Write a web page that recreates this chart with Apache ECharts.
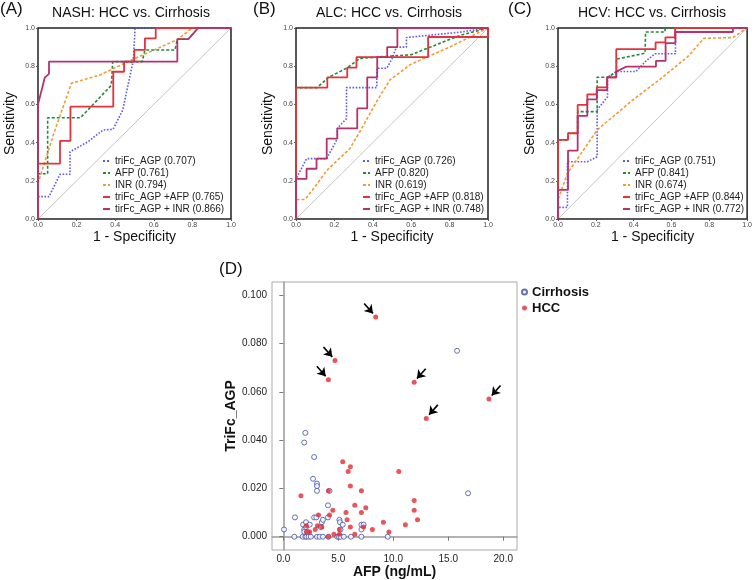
<!DOCTYPE html>
<html>
<head>
<meta charset="utf-8">
<script src="https://cdn.jsdelivr.net/npm/echarts@6/dist/echarts.min.js"></script>
<style>
  html, body { margin: 0; padding: 0; background: #fff; }
  #main { width: 755px; height: 580px; }
</style>
</head>
<body>
<div id="main"></div>
<script>
var chart = echarts.init(document.getElementById('main'));
var FONT = 'Liberation Sans, Arial, sans-serif';

// ---- ROC curves, [1 - specificity, sensitivity] ----
var nashTriFc = [[0,0],[0,0.117],[0.057,0.117],[0.114,0.234],[0.166,0.234],[0.166,0.352],[0.26,0.405],[0.31,0.445],[0.338,0.466],[0.389,0.47],[0.439,0.571],[0.494,0.832],[0.503,1],[1,1]];
var nashAfp = [[0,0],[0,0.237],[0.05,0.237],[0.05,0.53],[0.22,0.53],[0.38,0.7],[0.387,0.7],[0.387,0.824],[0.54,0.824],[0.554,0.885],[0.71,0.885],[0.722,0.942],[0.779,0.942],[0.83,1],[1,1]];
var nashInr = [[0,0],[0,0.187],[0.088,0.466],[0.173,0.71],[0.32,0.754],[0.5,0.84],[0.718,0.937],[0.8,1],[1,1]];
var nashTriFcAfp = [[0,0],[0,0.29],[0.114,0.29],[0.114,0.409],[0.168,0.409],[0.168,0.588],[0.39,0.588],[0.39,0.771],[0.446,0.771],[0.446,0.824],[0.499,0.824],[0.499,0.885],[0.554,0.885],[0.554,0.946],[0.61,0.946],[0.61,1],[1,1]];
var nashTriFcInr = [[0,0],[0,0.6],[0.035,0.74],[0.057,0.76],[0.057,0.824],[0.722,0.824],[0.722,0.942],[0.779,0.942],[0.83,1],[1,1]];

var alcTriFc = [[0,0],[0,0.21],[0.055,0.316],[0.16,0.316],[0.215,0.42],[0.215,0.474],[0.263,0.526],[0.263,0.688],[0.421,0.688],[0.421,0.789],[0.473,0.789],[0.5,0.84],[0.523,0.9],[0.575,0.9],[0.575,0.95],[0.87,0.98],[1,1]];
var alcAfp = [[0,0],[0,0.688],[0.11,0.688],[0.17,0.742],[0.27,0.793],[0.33,0.84],[0.45,0.85],[0.6,0.86],[0.7,0.9],[0.85,0.96],[1,1]];
var alcInr = [[0,0],[0,0.102],[0.047,0.102],[0.1,0.17],[0.16,0.254],[0.28,0.368],[0.34,0.47],[0.419,0.614],[0.489,0.728],[0.593,0.807],[0.688,0.851],[0.8,0.9],[1,1]];
var alcTriFcAfp = [[0,0],[0,0.688],[0.163,0.688],[0.163,0.742],[0.267,0.742],[0.267,0.793],[0.315,0.793],[0.315,0.847],[0.688,0.847],[0.688,0.953],[1,0.953],[1,1]];
var alcTriFcInr = [[0,0],[0,0.21],[0.055,0.21],[0.055,0.263],[0.107,0.263],[0.107,0.316],[0.16,0.316],[0.16,0.421],[0.215,0.421],[0.215,0.474],[0.319,0.474],[0.319,0.579],[0.371,0.579],[0.371,0.742],[0.423,0.742],[0.423,0.847],[0.475,0.847],[0.475,0.9],[0.528,0.9],[0.528,1],[1,1]];

var hcvTriFc = [[0,0],[0,0.061],[0.05,0.061],[0.05,0.3],[0.155,0.3],[0.207,0.326],[0.207,0.571],[0.262,0.64],[0.262,0.742],[0.308,0.772],[0.412,0.772],[0.463,0.825],[0.513,0.865],[0.621,0.865],[0.621,1],[1,1]];
var hcvAfp = [[0,0],[0,0.414],[0.053,0.414],[0.053,0.449],[0.104,0.449],[0.104,0.562],[0.207,0.562],[0.207,0.742],[0.262,0.742],[0.309,0.77],[0.309,0.837],[0.46,0.868],[0.463,0.979],[0.566,0.979],[0.566,1],[1,1]];
var hcvInr = [[0,0],[0,0.1],[0.05,0.239],[0.207,0.466],[0.395,0.623],[0.55,0.74],[0.686,0.85],[0.771,0.946],[0.925,0.95],[1,1]];
var hcvTriFcAfp = [[0,0],[0,0.414],[0.053,0.414],[0.053,0.449],[0.104,0.449],[0.104,0.597],[0.155,0.597],[0.155,0.653],[0.205,0.653],[0.205,0.689],[0.26,0.689],[0.26,0.742],[0.308,0.742],[0.308,0.889],[0.516,0.889],[0.516,0.925],[0.568,0.925],[0.568,0.951],[0.619,0.951],[0.619,1],[1,1]];
var hcvTriFcInr = [[0,0],[0,0.152],[0.053,0.152],[0.053,0.358],[0.104,0.358],[0.104,0.54],[0.155,0.54],[0.155,0.626],[0.205,0.626],[0.205,0.675],[0.26,0.675],[0.26,0.742],[0.308,0.742],[0.308,0.772],[0.362,0.798],[0.518,0.798],[0.518,0.828],[0.569,0.828],[0.569,0.921],[0.621,0.921],[0.621,0.979],[0.925,0.979],[0.925,1],[1,1]];

var markerNames = ['triFc_AGP', 'AFP', 'INR', 'triFc_AGP +AFP', 'tirFc_AGP + INR'];
var nashAuc = ['0.707', '0.761', '0.794', '0.765', '0.866'];
var alcAuc = ['0.726', '0.820', '0.619', '0.818', '0.748'];
var hcvAuc = ['0.751', '0.841', '0.674', '0.844', '0.772'];

// ---- scatter (D): [AFP ng/mL, TriFc_AGP] ----
var cirrhosisPoints = [[0.06,0.003],[1.0,0],[1.06,0.008],[1.76,0],[1.8,0.005],[1.9,0.003],[2.0,0.043],[1.9,0.039],[2.06,0.006],[2.06,0.004],[2.0,0],[2.1,0],[2.3,0],[2.5,0],[2.8,0.033],[2.7,0.024],[2.8,0.008],[3.0,0.008],[3.06,0.022],[3.06,0.021],[3.06,0.019],[3.06,0],[3.3,0],[3.5,0.006],[3.6,0.007],[3.6,0],[4.06,0.013],[4.2,0.019],[4.06,0.008],[4.1,0],[4.9,0],[5.05,0],[5.2,0],[5.5,0],[5.1,0.007],[5.15,0.006],[5.2,0.003],[5.4,0.005],[6.15,0],[7.1,0],[7.1,0.005],[7.3,0.005],[7.1,0.003],[9.5,0],[16.8,0.018],[15.8,0.077],[1.9,0.002],[2.2,0.002],[3.4,0.004],[2.4,0.005]];
var hccPoints = [[1.6,0.017],[2.1,0.0045],[2.1,0.002],[2.4,0.002],[3.2,0.009],[3.1,0.0045],[3.5,0.004],[2.9,0.003],[4.1,0.019],[4.1,0],[4.2,0.009],[4.5,0.011],[4.6,0.001],[5.1,0.001],[5.1,0.003],[5.4,0.031],[5.9,0.027],[6.1,0.029],[6.1,0.021],[6.1,0.004],[5.7,0.010],[5.8,0.007],[6.5,0.013],[6.5,0.001],[7.1,0.019],[7.1,0.010],[7.3,0.004],[7.5,0.012],[8.1,0.003],[9.1,0.006],[9.6,0.002],[10.5,0.027],[11.1,0.005],[11.9,0.015],[11.9,0.011],[12.2,0.007],[13.0,0.049],[18.7,0.057],[11.9,0.064],[8.4,0.091],[4.7,0.073],[4.1,0.065]];
// outliers marked with arrows; side -1 = arrow from upper left, 1 = from upper right
var arrowPoints = [[8.4,0.091],[4.7,0.073],[4.1,0.065],[11.9,0.064],[13.0,0.049],[18.7,0.057]];
var arrowSides = [-1, -1, -1, 1, 1, 1];
var afpTicks = [0, 5, 10, 15, 20];
var triFcTicks = [0, 0.02, 0.04, 0.06, 0.08, 0.1];

var curveStyles = [
  { color: '#5a5af5', type: 'dotted', width: 1.6 },
  { color: '#1f8a3c', type: [3, 2], width: 1.6 },
  { color: '#f39a35', type: [3, 2], width: 1.6 },
  { color: '#e3333b', type: 'solid', width: 1.8 },
  { color: '#b5336b', type: 'solid', width: 1.8 }
];

var rocGrids = [
  { left: 38, top: 28, width: 193, height: 191 },
  { left: 296, top: 28, width: 192, height: 191 },
  { left: 558, top: 28, width: 195, height: 191 }
];
var rocSets = [
  [nashTriFc, nashAfp, nashInr, nashTriFcAfp, nashTriFcInr],
  [alcTriFc, alcAfp, alcInr, alcTriFcAfp, alcTriFcInr],
  [hcvTriFc, hcvAfp, hcvInr, hcvTriFcAfp, hcvTriFcInr]
];
var rocAucs = [nashAuc, alcAuc, hcvAuc];
var legendLefts = [102, 362, 622];

var grids = [], xAxes = [], yAxes = [], series = [], legends = [];

rocGrids.forEach(function (g, i) {
  grids.push(Object.assign({ show: true, borderColor: '#222', borderWidth: 1.5, backgroundColor: '#fff' }, g));
  xAxes.push({
    type: 'value', gridIndex: i, min: 0, max: 1, interval: 0.2,
    name: '1 - Specificity', nameLocation: 'middle', nameGap: 11,
    nameTextStyle: { fontFamily: FONT, fontSize: 14, color: '#111' },
    axisLine: { show: false },
    axisTick: { show: true, length: 2, lineStyle: { color: '#555' } },
    axisLabel: { fontFamily: FONT, fontSize: 7, color: '#444', margin: 3, formatter: function (v) { return v.toFixed(1); } },
    splitLine: { show: false }
  });
  yAxes.push({
    type: 'value', gridIndex: i, min: 0, max: 1, interval: 0.2,
    name: 'Sensitivity', nameLocation: 'middle', nameGap: 21,
    nameTextStyle: { fontFamily: FONT, fontSize: 14, color: '#111' },
    axisLine: { show: false },
    axisTick: { show: true, length: 2, lineStyle: { color: '#555' } },
    axisLabel: { fontFamily: FONT, fontSize: 7, color: '#444', margin: 3, formatter: function (v) { return v.toFixed(1); } },
    splitLine: { show: false }
  });
  series.push({
    type: 'line', xAxisIndex: i, yAxisIndex: i, data: [[0, 0], [1, 1]],
    symbol: 'none', silent: true, lineStyle: { color: '#c4c4c4', width: 1 }
  });
  var names = [];
  rocSets[i].forEach(function (curve, k) {
    var name = markerNames[k] + ' (' + rocAucs[i][k] + ')';
    names.push(name);
    series.push({
      name: name, type: 'line', xAxisIndex: i, yAxisIndex: i,
      data: curve, symbol: 'none', silent: true,
      lineStyle: curveStyles[k], itemStyle: { color: curveStyles[k].color }
    });
  });
  // tiny item height so the line legend icon shows only its line sample
  legends.push({
    data: names, orient: 'vertical', left: legendLefts[i], top: 155,
    padding: 0, itemGap: 0, itemWidth: 7, itemHeight: 1,
    itemStyle: { opacity: 0 },
    selectedMode: false,
    textStyle: { fontFamily: FONT, fontSize: 10, color: '#222', lineHeight: 12 }
  });
});

// scatter panel
grids.push({ left: 272, top: 282, width: 245, height: 268, show: true, borderColor: '#aaa', borderWidth: 1 });
xAxes.push({
  type: 'value', gridIndex: 3, min: -1.03, max: 21.25,
  name: 'AFP (ng/mL)', nameLocation: 'middle', nameGap: 15,
  nameTextStyle: { fontFamily: FONT, fontSize: 14, fontWeight: 'bold', color: '#111' },
  axisLine: { show: true, lineStyle: { color: '#999', width: 1.5 } },
  axisTick: { show: true, length: 4, customValues: afpTicks, lineStyle: { color: '#777' } },
  axisLabel: { fontFamily: FONT, fontSize: 10, color: '#222', margin: 4, customValues: afpTicks, formatter: function (v) { return v.toFixed(1); } },
  splitLine: { show: false }
});
yAxes.push({
  type: 'value', gridIndex: 3, min: -0.0055, max: 0.1055,
  name: 'TriFc_AGP', nameLocation: 'middle', nameGap: 34,
  nameTextStyle: { fontFamily: FONT, fontSize: 14, fontWeight: 'bold', color: '#111' },
  axisLine: { show: true, lineStyle: { color: '#999', width: 1.5 } },
  axisTick: { show: true, length: 4, customValues: triFcTicks, lineStyle: { color: '#777' } },
  axisLabel: { fontFamily: FONT, fontSize: 10, color: '#222', margin: 5, customValues: triFcTicks, formatter: function (v) { return v.toFixed(3); } },
  splitLine: { show: false }
});

// arrows pointing to the outliers, offset from each point in data units
var arrowLines = arrowPoints.map(function (p, i) {
  var s = arrowSides[i];
  return [
    { coord: [p[0] + s * 1.05, p[1] + 0.0056] },
    { coord: [p[0] + s * 0.25, p[1] + 0.0015] }
  ];
});

series.push({
  name: 'Cirrhosis', type: 'scatter', xAxisIndex: 3, yAxisIndex: 3,
  data: cirrhosisPoints, symbol: 'circle', symbolSize: 5, silent: true,
  itemStyle: { color: '#fff', borderColor: '#3f4fa6', borderWidth: 1 }
});
series.push({
  name: 'HCC', type: 'scatter', xAxisIndex: 3, yAxisIndex: 3,
  data: hccPoints, symbol: 'circle', symbolSize: 5, silent: true,
  itemStyle: { color: '#e12a34' },
  markLine: {
    silent: true, symbol: ['none', 'arrow'], symbolSize: 8,
    label: { show: false },
    lineStyle: { color: '#000', width: 1.6, type: 'solid' },
    itemStyle: { color: '#000' },
    animation: false,
    data: arrowLines
  }
});
legends.push({
  data: ['Cirrhosis', 'HCC'], orient: 'vertical', left: 521, top: 284,
  padding: 0, itemGap: 0, itemWidth: 5, itemHeight: 5, selectedMode: false,
  textStyle: { fontFamily: FONT, fontSize: 13, fontWeight: 'bold', color: '#111', lineHeight: 16 }
});

var titles = [
  ['(A)', 0, 1, 17, 'left'], ['(B)', 253, 1, 17, 'left'], ['(C)', 508, 1, 17, 'left'],
  ['NASH: HCC vs. Cirrhosis', 131, 6, 14, 'center'],
  ['ALC: HCC vs. Cirrhosis', 389, 6, 14, 'center'],
  ['HCV: HCC vs. Cirrhosis', 652, 6, 14, 'center'],
  ['(D)', 219, 261, 17, 'left']
];

chart.setOption({
  animation: false,
  backgroundColor: '#fff',
  grid: grids,
  xAxis: xAxes,
  yAxis: yAxes,
  legend: legends,
  graphic: titles.map(function (t) {
    return {
      type: 'text', x: t[1], y: t[2], silent: true,
      style: { text: t[0], font: t[3] + 'px ' + FONT, fill: '#111', align: t[4] }
    };
  }),
  series: series
});
</script>
</body>
</html>
